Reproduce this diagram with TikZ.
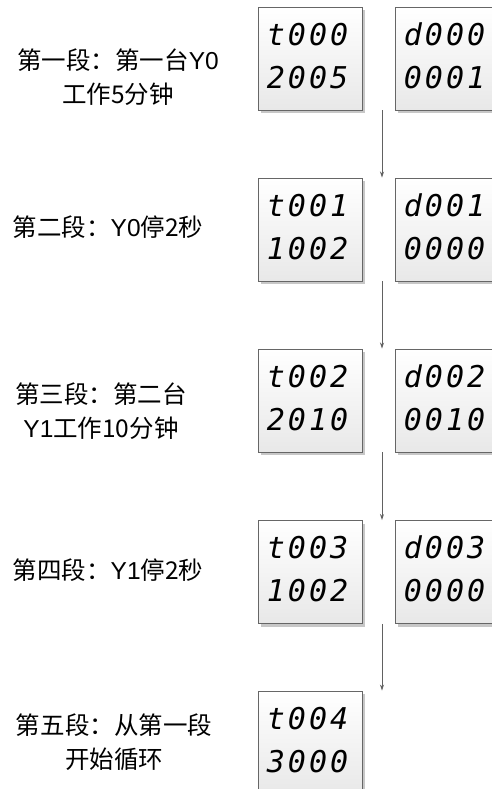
\documentclass[tikz,border=0pt]{standalone}
\usepackage{fontspec}
\usetikzlibrary{shadows,arrows.meta}
\newfontfamily\cjk{Noto Sans CJK SC}
\newfontfamily\lat{Liberation Sans}
\newfontfamily\seg{DejaVu Sans Mono}[LetterSpace=10]
\newcommand\twoline[2]{#1\hspace*{5pt}\\#2\hspace*{5pt}\rule[-6pt]{0pt}{6pt}}
\tikzset{
  disp/.style={draw=black!60, line width=0.9pt, minimum width=104pt, minimum height=103pt,
    inner sep=0pt, top color=white, bottom color=black!9, align=center,
    drop shadow={shadow xshift=3pt, shadow yshift=-3pt, fill=black!22, opacity=1},
    font=\seg\itshape\fontsize{30}{43}\selectfont},
  lbl/.style={align=center, inner sep=0pt, font=\cjk\fontsize{24.5}{34}\selectfont},
  flow/.style={draw=black!62, line width=1pt, -{Stealth[length=6pt,width=4pt]}}
}
\begin{document}
\begin{tikzpicture}[x=1pt,y=-1pt]
\useasboundingbox (0,0) rectangle (491,789);
\coordinate (ax) at (382,0);
% displays
\node[disp] (L1) at (310,58.5) {\twoline{t000}{2005}};
\node[disp] (R1) at (447,58.5) {\twoline{d000}{0001}};
\node[disp] (L2) at (310,229.5) {\twoline{t001}{1002}};
\node[disp] (R2) at (447,229.5) {\twoline{d001}{0000}};
\node[disp] (L3) at (310,400.5) {\twoline{t002}{2010}};
\node[disp] (R3) at (447,400.5) {\twoline{d002}{0010}};
\node[disp] (L4) at (310,572) {\twoline{t003}{1002}};
\node[disp] (R4) at (447,572) {\twoline{d003}{0000}};
\node[disp] (L5) at (310,742.5) {\twoline{t004}{3000}};
% labels
\node[lbl] (T1) at (118,77) {第一段：第一台{\lat Y0}\\工作5分钟};
\node[lbl] (T2) at (108,227) {第二段：{\lat Y0}停2秒};
\node[lbl] (T3) at (101,411) {第三段：第二台\\{\lat Y1}工作10分钟};
\node[lbl] (T4) at (108,570) {第四段：{\lat Y1}停2秒};
\node[lbl] (T5) at (114,742) {第五段：从第一段\\开始循环};
% arrows
\draw[flow] (L1.south -| ax) -- (L2.north -| ax);
\draw[flow] (L2.south -| ax) -- (L3.north -| ax);
\draw[flow] (L3.south -| ax) -- (L4.north -| ax);
\draw[flow] (L4.south -| ax) -- (L5.north -| ax);
\end{tikzpicture}
\end{document}
